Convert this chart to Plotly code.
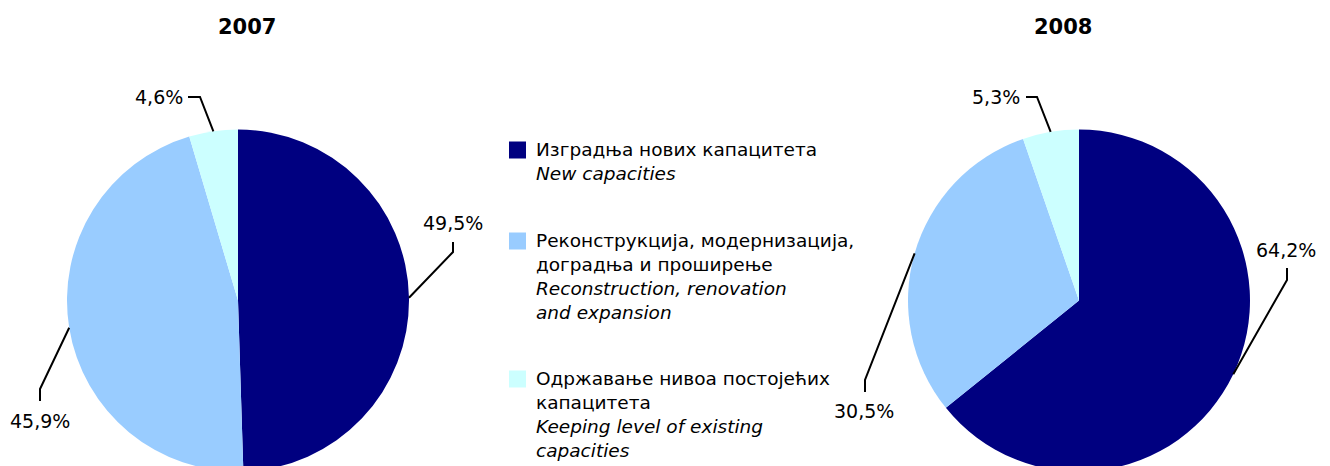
"""
Два кружна дијаграма: структура инвестиција по намени, 2007 и 2008.
"""

import math
import plotly.graph_objects as go

# --- подаци ---
YEARS = ["2007", "2008"]
CATEGORIES_SR = [
    "Изградња нових капацитета",
    "Реконструкција, модернизација,<br>доградња и проширење",
    "Одржавање нивоа постојећих<br>капацитета",
]
CATEGORIES_EN = [
    "New capacities",
    "Reconstruction, renovation<br>and expansion",
    "Keeping level of existing<br>capacities",
]
SHARES_2007 = [49.5, 45.9, 4.6]
SHARES_2008 = [64.2, 30.5, 5.3]

COLORS = ["#000080", "#99ccff", "#ccffff"]

W, H = 1330, 466
OFF = 8  # страница има маргину од 8px, координате испод су у пикселима екрана
FONT = "DejaVu Sans"
R = 171  # полупречник пите у пикселима
CENTERS = [(238, 300.5), (1079, 300.5)]
TITLE_POS = [(247, 27), (1063, 27)]

# прелом линија ка ознакама (px): прелом, крај, позиција ознаке, сидро
LEADERS = [
    [
        ((453, 252), (453, 242), (453, 223), "center"),
        ((40, 389), (40, 401), (40, 421), "center"),
        ((200, 97), (188, 97), (185, 97), "right"),
    ],
    [
        ((1287, 280), (1287, 268), (1286, 250), "center"),
        ((865, 380), (865, 392), (864, 411), "center"),
        ((1037, 97), (1026, 97), (1022, 97), "right"),
    ],
]


def px(x):
    return (x - OFF) / W


def py(y):
    return 1 - (y - OFF) / H


def fmt(v):
    return f"{v:.1f}".replace(".", ",") + "%"


labels = [f"{sr}<br><i>{en}</i>" for sr, en in zip(CATEGORIES_SR, CATEGORIES_EN)]

fig = go.Figure()
shapes = []
annotations = []

for i, (year, shares) in enumerate(zip(YEARS, [SHARES_2007, SHARES_2008])):
    cx, cy = CENTERS[i]
    fig.add_trace(
        go.Pie(
            labels=labels,
            values=shares,
            sort=False,
            direction="clockwise",
            rotation=0,
            marker=dict(colors=COLORS, line=dict(width=0)),
            textinfo="none",
            hovertemplate="%{label}<br>%{value:.1f}%<extra>" + year + "</extra>",
            domain=dict(x=[px(cx - R), px(cx + R)], y=[py(cy + R), py(cy - R)]),
            showlegend=False,
        )
    )

    # наслов
    tx, ty = TITLE_POS[i]
    annotations.append(dict(
        text=f"<b>{year}</b>", x=px(tx), y=py(ty), xref="paper", yref="paper",
        xanchor="center", yanchor="middle", showarrow=False,
        font=dict(size=21, color="black", family=FONT),
    ))

    # линије и ознаке процената
    total = sum(shares)
    cum = 0
    for j, v in enumerate(shares):
        theta = math.radians(360 * (cum + v / 2) / total)
        cum += v
        ex = cx + R * math.sin(theta)
        ey = cy - R * math.cos(theta)
        (bx, by), (dx, dy), (lx, ly), anchor = LEADERS[i][j]
        shapes.append(dict(
            type="path", xref="paper", yref="paper",
            path=f"M {px(ex)} {py(ey)} L {px(bx)} {py(by)} L {px(dx)} {py(dy)}",
            line=dict(color="black", width=2),
        ))
        annotations.append(dict(
            text=fmt(v), x=px(lx), y=py(ly), xref="paper", yref="paper",
            xanchor=anchor, yanchor="middle", showarrow=False,
            font=dict(size=19, color="black", family=FONT),
        ))

# легенда
LEG_X = 509
LEG_Y = [150, 241, 379]
for k, lab in enumerate(labels):
    yc = LEG_Y[k]
    shapes.append(dict(
        type="rect", xref="paper", yref="paper",
        x0=px(LEG_X), x1=px(LEG_X + 17), y0=py(yc + 8.5), y1=py(yc - 8.5),
        fillcolor=COLORS[k], line=dict(width=0),
    ))
    annotations.append(dict(
        text=lab, x=px(LEG_X + 25), y=py(yc - 13), xref="paper", yref="paper",
        xanchor="left", yanchor="top", align="left", showarrow=False,
        font=dict(size=18.5, color="black", family=FONT),
    ))

fig.update_layout(
    width=W,
    height=H,
    margin=dict(l=0, r=0, t=0, b=0),
    paper_bgcolor="white",
    plot_bgcolor="white",
    font=dict(family=FONT, color="black"),
    shapes=shapes,
    annotations=annotations,
)

fig.write_html("out.html")
